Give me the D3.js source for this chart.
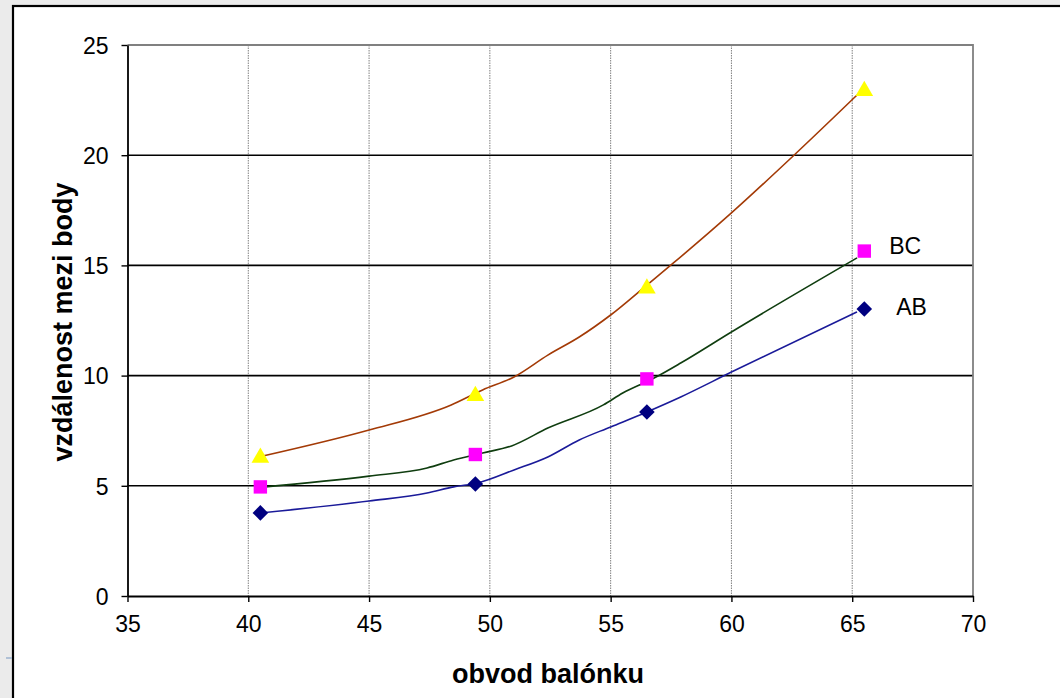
<!DOCTYPE html>
<html>
<head>
<meta charset="utf-8">
<script src="https://cdn.jsdelivr.net/npm/d3@7/dist/d3.min.js"></script>
<style>
  html, body { margin: 0; padding: 0; background: #ebebeb; }
  svg { display: block; }
  text { font-family: "Liberation Sans", Arial, sans-serif; }
</style>
</head>
<body>
<svg id="chart" width="1060" height="698"></svg>
<script>
// Measured points (obvod balónku vs. vzdálenost mezi body)
const circumference = [40.5, 49.4, 56.5, 65.5];
const distAB = [3.77, 5.08, 8.35, 13.02];
const distBC = [4.95, 6.42, 9.85, 15.65];
const distAC = [6.32, 9.12, 14.0, 22.96];

// Smoothed trend lines through the measurements
const trendABx = [40.6, 45.0, 47.4, 48.5, 49.5, 51.0, 52.4, 53.7, 55.0, 56.5, 57.9, 60.0, 65.2];
const trendABy = [3.78, 4.31, 4.67, 4.95, 5.13, 5.72, 6.31, 7.08, 7.67, 8.35, 9.03, 10.16, 12.89];
const trendBCx = [40.5, 45.0, 47.4, 48.5, 49.7, 50.9, 52.4, 54.7, 55.5, 56.8, 57.9, 60.0, 65.2];
const trendBCy = [4.93, 5.44, 5.81, 6.17, 6.49, 6.81, 7.62, 8.67, 9.21, 9.89, 10.57, 11.98, 15.34];
const trendACx = [40.6, 45.0, 48.4, 49.7, 51.0, 52.4, 53.7, 55.0, 56.6, 57.6, 60.0, 62.6, 65.2];
const trendACy = [6.35, 7.53, 8.67, 9.35, 9.94, 10.93, 11.75, 12.75, 14.2, 15.11, 17.38, 20.01, 22.73];

const xTicks = [35, 40, 45, 50, 55, 60, 65, 70];
const yTicks = [0, 5, 10, 15, 20, 25];
const xTitle = "obvod balónku";
const yTitle = "vzdálenost mezi body";

const svg = d3.select("#chart");

// Page frame: white panel with a dark border
svg.append("rect").attr("x", 0).attr("y", 0).attr("width", 1060).attr("height", 698).attr("fill", "#ebebeb");
svg.append("rect").attr("x", 13).attr("y", 6).attr("width", 1060).attr("height", 700)
  .attr("fill", "#ffffff").attr("stroke", "#000").attr("stroke-width", 2.2);
svg.append("line").attr("x1", 6).attr("x2", 12).attr("y1", 658).attr("y2", 658)
  .attr("stroke", "#9db3cf").attr("stroke-width", 1.5);

const plot = { left: 127.5, right: 973, top: 45, bottom: 596 };
const x = d3.scaleLinear().domain([35, 70]).range([plot.left, plot.right]);
const y = d3.scaleLinear().domain([0, 25]).range([plot.bottom, plot.top]);

// Vertical dotted gridlines
svg.append("g").selectAll("line")
  .data(xTicks.filter(d => d > 35 && d < 70))
  .join("line")
  .attr("x1", d => x(d)).attr("x2", d => x(d))
  .attr("y1", plot.top).attr("y2", plot.bottom)
  .attr("stroke", "#808080").attr("stroke-width", 1)
  .attr("stroke-dasharray", "1.5,1");

// Horizontal gridlines
svg.append("g").selectAll("line")
  .data(yTicks.filter(d => d > 0 && d < 25))
  .join("line")
  .attr("x1", plot.left).attr("x2", plot.right)
  .attr("y1", d => y(d)).attr("y2", d => y(d))
  .attr("stroke", "#000").attr("stroke-width", 1.6);

// Plot area top and right edges
svg.append("path")
  .attr("d", `M${plot.left},${y(25)}H${x(70)}V${plot.bottom}`)
  .attr("fill", "none").attr("stroke", "#808080").attr("stroke-width", 1.8);

// Axes
const xAxis = d3.axisBottom(x).tickValues(xTicks).tickSize(6).tickPadding(14).tickSizeOuter(0);
const yAxis = d3.axisLeft(y).tickValues(yTicks).tickSize(6).tickPadding(13).tickSizeOuter(0);

const gx = svg.append("g").attr("transform", `translate(0,${plot.bottom})`).call(xAxis);
const gy = svg.append("g").attr("transform", `translate(${plot.left},0)`).call(yAxis);
[gx, gy].forEach(g => {
  g.select(".domain").attr("stroke", "#000").attr("stroke-width", 1.8);
  g.selectAll(".tick line").attr("stroke", "#000").attr("stroke-width", 1.4);
  g.selectAll(".tick text").attr("fill", "#000").style("font-size", "23px")
    .style("font-family", "'Liberation Sans', Arial, sans-serif");
});
gy.selectAll(".tick text").attr("dy", "0.36em");

// Axis titles
svg.append("text").attr("x", 548).attr("y", 683)
  .attr("text-anchor", "middle").style("font-size", "27px").style("font-weight", "bold")
  .attr("fill", "#000").text(xTitle);
svg.append("text").attr("transform", `translate(72,322) rotate(-90)`)
  .attr("text-anchor", "middle").style("font-size", "27px").style("font-weight", "bold")
  .attr("fill", "#000").text(yTitle);

// Trend lines
const lineGen = d3.line().curve(d3.curveMonotoneX).x(d => x(d[0])).y(d => y(d[1]));
const trends = [
  { xs: trendACx, ys: trendACy, color: "#a33a06" },
  { xs: trendBCx, ys: trendBCy, color: "#0f3d0f" },
  { xs: trendABx, ys: trendABy, color: "#1a1a99" }
];
trends.forEach(t => {
  svg.append("path")
    .datum(t.xs.map((v, i) => [v, t.ys[i]]))
    .attr("d", lineGen)
    .attr("fill", "none").attr("stroke", t.color).attr("stroke-width", 1.6);
});

// Markers
const sym = (type, size) => d3.symbol().type(type).size(size);
svg.append("g").selectAll("path")
  .data(circumference.map((v, i) => [v, distAC[i]]))
  .join("path")
  .attr("d", sym(d3.symbolTriangle, 135))
  .attr("transform", d => `translate(${x(d[0])},${y(d[1]) + 1})`)
  .attr("fill", "#ffff00");

svg.append("g").selectAll("rect")
  .data(circumference.map((v, i) => [v, distBC[i]]))
  .join("rect")
  .attr("x", d => x(d[0]) - 6.7).attr("y", d => y(d[1]) - 6.7)
  .attr("width", 13.4).attr("height", 13.4)
  .attr("fill", "#ff00ff");

svg.append("g").selectAll("path")
  .data(circumference.map((v, i) => [v, distAB[i]]))
  .join("path")
  .attr("d", "M0,-7.8L7.8,0L0,7.8L-7.8,0Z")
  .attr("transform", d => `translate(${x(d[0])},${y(d[1])})`)
  .attr("fill", "#000080");

// Series labels next to the last measurements
const last = circumference.length - 1;
svg.append("text").attr("x", x(circumference[last]) + 25).attr("y", y(distBC[last]) + 3)
  .style("font-size", "23px").attr("fill", "#000").text("BC");
svg.append("text").attr("x", x(circumference[last]) + 32).attr("y", y(distAB[last]) + 6)
  .style("font-size", "23px").attr("fill", "#000").text("AB");
</script>
</body>
</html>
